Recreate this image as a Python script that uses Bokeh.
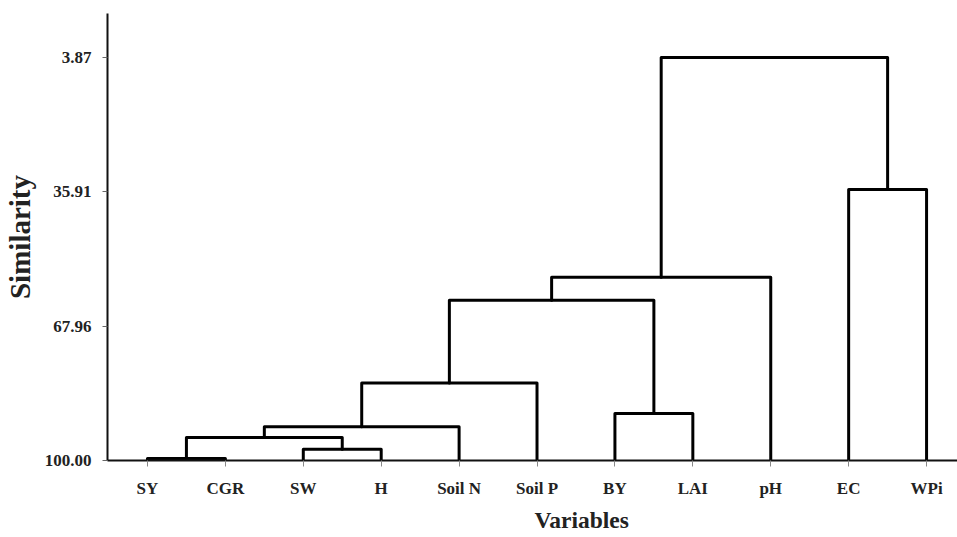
from bokeh.plotting import figure
from bokeh.models import Range1d, FixedTicker, Title
from bokeh.embed import file_html
from bokeh.resources import INLINE

# ---- data ----
leaves = ["SY", "CGR", "SW", "H", "Soil N", "Soil P", "BY", "LAI", "pH", "EC", "WPi"]
# agglomeration steps: child ids (leaves 0..10, new clusters 11..) and similarity level
merge_left = [0, 2, 11, 13, 14, 6, 15, 17, 9, 18]
merge_right = [1, 3, 12, 4, 5, 7, 16, 8, 10, 19]
merge_similarity = [99.5, 97.3, 94.5, 91.97, 81.5, 88.8, 61.8, 56.3, 35.4, 3.87]
y_ticks = [3.87, 35.91, 67.96, 100.00]
y_tick_labels = ["3.87", "35.91", "67.96", "100.00"]

# ---- build dendrogram links ----
pos = {i: float(i) for i in range(len(leaves))}
lev = {i: 100.0 for i in range(len(leaves))}
xs, ys = [], []
for k, (a, b, h) in enumerate(zip(merge_left, merge_right, merge_similarity)):
    node = len(leaves) + k
    xs.append([pos[a], pos[a], pos[b], pos[b]])
    ys.append([lev[a], h, h, lev[b]])
    pos[node] = (pos[a] + pos[b]) / 2.0
    lev[node] = h

FONT = "Liberation Serif"

p = figure(width=957, height=537, output_backend="svg", toolbar_location=None,
           x_range=Range1d(-0.513, 10.397), y_range=Range1d(100.0, -6.6),
           min_border_left=106, min_border_right=0, min_border_top=13, min_border_bottom=76)
p.outline_line_color = None
p.grid.visible = False
p.background_fill_color = "white"
p.border_fill_color = "white"

p.multi_line(xs, ys, line_color="black", line_width=3, line_join="round", line_cap="round")

# x axis
xa = p.xaxis[0]
xa.ticker = FixedTicker(ticks=list(range(len(leaves))))
xa.major_label_overrides = {i: s for i, s in enumerate(leaves)}
xa.minor_tick_line_color = None
xa.major_tick_in = 0
xa.major_tick_out = 6
xa.major_tick_line_color = "#888888"
xa.axis_line_width = 2
xa.axis_line_color = "#111111"
xa.major_label_standoff = 12
xa.major_label_text_font = FONT
xa.major_label_text_font_style = "bold"
xa.major_label_text_font_size = "17px"
xa.major_label_text_color = "#222222"

# y axis
ya = p.yaxis[0]
ya.ticker = FixedTicker(ticks=y_ticks)
ya.major_label_overrides = {v: s for v, s in zip(y_ticks, y_tick_labels)}
ya.minor_tick_line_color = None
ya.major_tick_in = 0
ya.major_tick_out = 5
ya.major_tick_line_color = "#666666"
ya.axis_line_width = 2
ya.axis_line_color = "#111111"
ya.major_label_standoff = 11
ya.major_label_text_font = FONT
ya.major_label_text_font_style = "bold"
ya.major_label_text_font_size = "17px"
ya.major_label_text_color = "#222222"
ya.axis_label = "Similarity"
ya.axis_label_standoff = 6
ya.axis_label_text_font = FONT
ya.axis_label_text_font_style = "bold"
ya.axis_label_text_font_size = "29px"
ya.axis_label_text_color = "#222222"

# x axis title, placed right of centre as in the original
p.add_layout(Title(text="Variables", align="left", offset=427, standoff=9,
                   text_font=FONT, text_font_style="bold", text_font_size="23.5px",
                   text_color="#222222"), "below")

open("out.html", "w").write(file_html(p, INLINE))
